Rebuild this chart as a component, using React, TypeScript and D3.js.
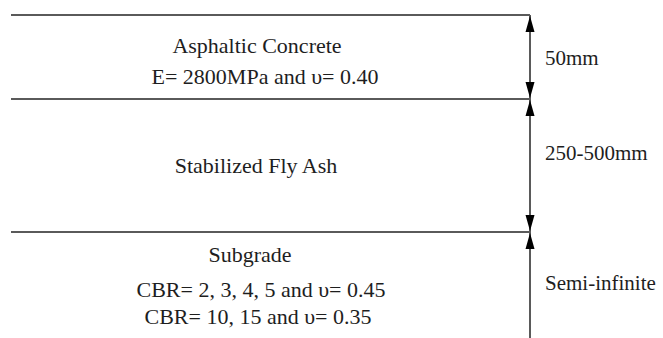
import React from "react";
import * as d3 from "d3";

// Schematic layer boundaries (relative depth units, 0 = surface, 100 = bottom of figure)
const layerBounds = [0, 26, 67.2, 100];
const layerNames = ["Asphaltic Concrete", "Stabilized Fly Ash", "Subgrade"];
const layerProps = [
  ["E= 2800MPa and \u03c5= 0.40"],
  [],
  ["CBR= 2, 3, 4, 5 and \u03c5= 0.45", "CBR= 10, 15 and \u03c5= 0.35"],
];
const thicknessLabels = ["50mm", "250-500mm", "Semi-infinite"];

const W = 663;
const H = 338;

export default function App() {
  const y = d3.scaleLinear().domain([0, 100]).range([15, 338]);
  const x = d3.scaleLinear().domain([0, 1]).range([11, 530]);
  const font = "'Liberation Serif', 'DejaVu Serif', serif";
  const lineColor = "#5a5a5a";
  const textColor = "#1e1e1e";
  const fs = 22;
  const fsR = 21;
  const textX = 257;

  const ah = 16; // arrowhead length
  const aw = 4.5; // half width

  const up = (px: number, py: number) =>
    `M${px},${py} L${px - aw},${py + ah} L${px + aw},${py + ah} Z`;
  const down = (px: number, py: number) =>
    `M${px},${py} L${px - aw},${py - ah} L${px + aw},${py - ah} Z`;

  const tStyle = { fontFamily: font, fontSize: fs, fill: textColor } as React.CSSProperties;
  const rStyle = { fontFamily: font, fontSize: fsR, fill: textColor } as React.CSSProperties;

  return (
    <svg
      width={W}
      height={H}
      style={{ position: "absolute", left: 0, top: 0, background: "#fff" }}
    >
      {/* layer boundary lines */}
      {layerBounds.slice(0, 3).map((b, i) => (
        <line
          key={"l" + i}
          x1={x(0)}
          x2={x(1)}
          y1={y(b)}
          y2={y(b)}
          stroke={lineColor}
          strokeWidth={2}
        />
      ))}
      {/* vertical dimension line */}
      <line
        x1={x(1)}
        x2={x(1)}
        y1={y(0)}
        y2={y(100)}
        stroke={lineColor}
        strokeWidth={2}
      />
      {/* arrowheads */}
      {layerNames.map((_, i) => {
        const top = y(layerBounds[i]);
        const bot = y(layerBounds[i + 1]);
        return (
          <g key={"a" + i}>
            <path d={up(x(1), top + 1)} fill="#000" />
            {i < 2 && <path d={down(x(1), bot - 1)} fill="#000" />}
          </g>
        );
      })}
      {/* layer texts */}
      <g textAnchor="middle">
        <text x={textX} y={53} style={tStyle}>{layerNames[0]}</text>
        <text x={textX + 8} y={84} style={tStyle}>{layerProps[0][0]}</text>
        <text x={textX - 1} y={173} style={tStyle}>{layerNames[1]}</text>
        <text x={250} y={262} style={tStyle}>{layerNames[2]}</text>
        <text x={textX + 4} y={297} style={tStyle}>{layerProps[2][0]}</text>
        <text x={textX + 1} y={324} style={tStyle}>{layerProps[2][1]}</text>
      </g>
      {/* thickness labels */}
      <g>
        <text x={545} y={65} style={rStyle}>{thicknessLabels[0]}</text>
        <text x={545} y={160} style={rStyle}>{thicknessLabels[1]}</text>
        <text x={545} y={290} style={rStyle}>{thicknessLabels[2]}</text>
      </g>
    </svg>
  );
}
